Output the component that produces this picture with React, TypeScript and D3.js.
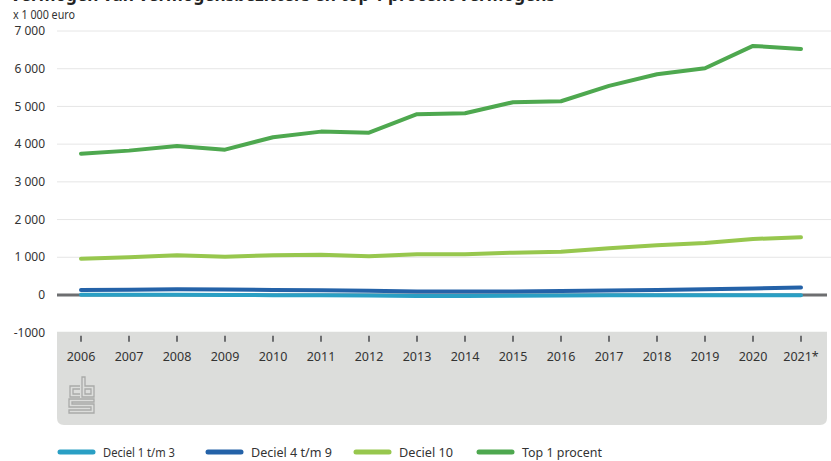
import React from "react";
import * as d3 from "d3";

const years = ["2006","2007","2008","2009","2010","2011","2012","2013","2014","2015","2016","2017","2018","2019","2020","2021*"];
const deciel1tm3 = [5,5,5,0,-5,-10,-15,-25,-25,-20,-15,-10,-5,-5,-5,-5];
const deciel4tm9 = [130,140,150,145,135,125,115,95,90,95,105,120,135,155,175,200];
const deciel10 = [963,1000,1053,1016,1053,1069,1026,1080,1080,1122,1149,1239,1318,1379,1485,1530];
const top1 = [3748,3828,3952,3854,4183,4332,4305,4793,4820,5111,5138,5544,5854,6013,6605,6525];
const yTicks = [-1000,0,1000,2000,3000,4000,5000,6000,7000];
const yTickLabels = ["-1000","0","1 000","2 000","3 000","4 000","5 000","6 000","7 000"];

const seriesNames = ["Deciel 1 t/m 3","Deciel 4 t/m 9","Deciel 10","Top 1 procent"];
const seriesColors = ["#2a9fc4","#2462a8","#97c74e","#4ea84f"];
const seriesData = [deciel1tm3, deciel4tm9, deciel10, top1];

export default function App() {
  const x = d3.scalePoint<string>().domain(years).range([81, 801]);
  const y = d3.scaleLinear().domain([-1000, 7000]).range([332.7, 31]);
  const line = d3.line<number>()
    .x((_, i) => x(years[i]) as number)
    .y((d) => y(d));
  const left = 57, right = 831, zeroRight = 827;
  const bandTop = y(-1000) - 1, bandBottom = 425, r = 7;
  const bandPath = `M${left},${bandTop} H${zeroRight} V${bandBottom - r} Q${zeroRight},${bandBottom} ${zeroRight - r},${bandBottom} H${left + r} Q${left},${bandBottom} ${left},${bandBottom - r} Z`;
  const order = [3, 2, 1, 0];
  const legendX = [58, 206, 354, 477];
  const legendTextW = [72, 81, 54, 80];
  const font = "'Noto Sans', 'Open Sans', sans-serif";
  return (
    <svg width={831} height={461} style={{ position: "absolute", left: 0, top: 0, background: "#fff" }} fontFamily={font}>
      <text x={10} y={1} fontSize={18} fontWeight="bold" fill="#222" textLength={545} lengthAdjust="spacingAndGlyphs">
        Vermogen van vermogensbezitters en top 1 procent vermogens
      </text>
      <text x={13} y={19} fontSize={12} fill="#333" textLength={62} lengthAdjust="spacingAndGlyphs">x 1 000 euro</text>
      {yTicks.filter((t) => t > 0).map((t) => (
        <line key={t} x1={left} x2={right} y1={y(t)} y2={y(t)} stroke="#e6e6e6" strokeWidth={1} />
      ))}
      {yTicks.map((t, i) => (
        <text key={t} x={45} y={y(t)} dy="0.35em" textAnchor="end" fontSize={12} fill="#333">{yTickLabels[i]}</text>
      ))}
      <path d={bandPath} fill="#dcdddb" />
      {years.map((yr) => (
        <g key={yr}>
          <line x1={x(yr)} x2={x(yr)} y1={bandTop + 4} y2={bandTop + 10} stroke="#6d6e70" strokeWidth={2} />
          <text x={x(yr)} y={361} textAnchor="middle" fontSize={12.5} fill="#333">{yr}</text>
        </g>
      ))}
      <g fill="none" stroke="#a9aaa9" strokeWidth={1.3}>
        <path d="M80,386 H70 V397 H80 M80,389 H73 V394 H80" />
        <path d="M82,377 V397 H94 V386 H85 V377 Z M85,389 H91 V394 H85 Z" />
        <path d="M94,399 H69 V407 H91 V410 H69 V413 H94 V404 H72 V402 H94 Z" />
      </g>
      <line x1={left} x2={zeroRight} y1={y(0)} y2={y(0)} stroke="#6d6e70" strokeWidth={3} />
      {order.map((si) => (
        <path key={si} d={line(seriesData[si]) || ""} fill="none" stroke={seriesColors[si]} strokeWidth={4} strokeLinecap="round" strokeLinejoin="round" />
      ))}
      {seriesNames.map((n, i) => (
        <g key={n}>
          <line x1={legendX[i] + 2} x2={legendX[i] + 35} y1={452} y2={452} stroke={seriesColors[i]} strokeWidth={5} strokeLinecap="round" />
          <text x={legendX[i] + 45} y={452} dy="0.35em" fontSize={13} fill="#333" textLength={legendTextW[i]} lengthAdjust="spacingAndGlyphs">{n}</text>
        </g>
      ))}
    </svg>
  );
}
